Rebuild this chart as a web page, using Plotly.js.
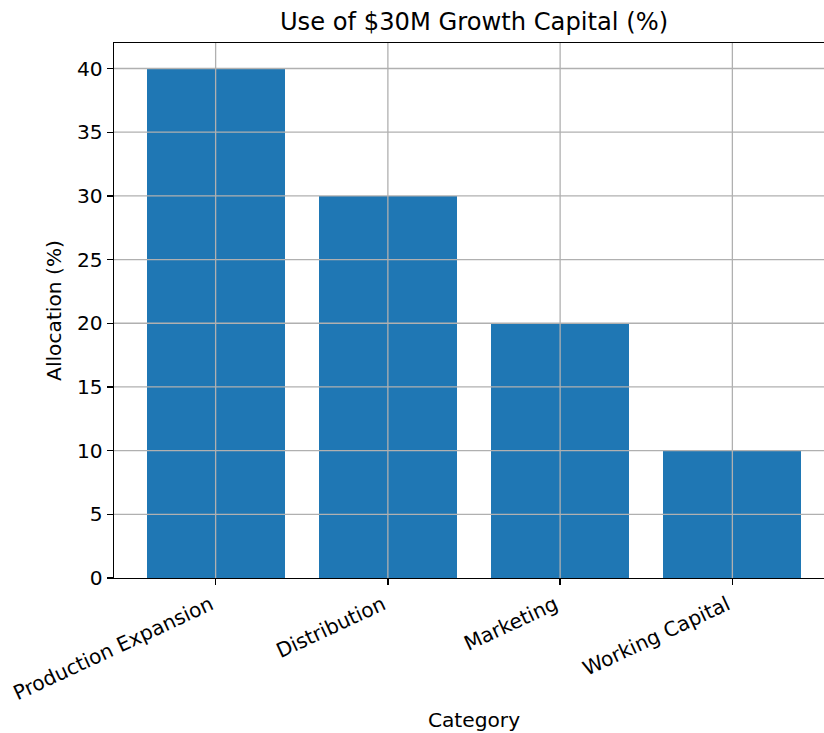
<!DOCTYPE html>
<html>
<head>
<meta charset="utf-8">
<script src="https://cdn.plot.ly/plotly-3.0.1.min.js"></script>
<style>
  html, body { margin: 0; padding: 0; overflow: hidden; background: #fff; }
  #chart { width: 850px; height: 733px; }
</style>
</head>
<body>
<div id="chart"></div>
<script>
// ---- data ----
const categories = ["Production Expansion", "Distribution", "Marketing", "Working Capital"];
const allocation = [40, 30, 20, 10];
const yTicks = [0, 5, 10, 15, 20, 25, 30, 35, 40];
const chartTitle = "Use of $30M Growth Capital (%)";
const xLabel = "Category";
const yLabel = "Allocation (%)";

// ---- styling ----
const FONT = "DejaVu Sans, Liberation Sans, sans-serif";
const GRID = "#b0b0b0";
const LBL = 20.2;

// gridlines drawn above bars (matplotlib style)
const shapes = [];
yTicks.forEach(v => {
  if (v === 0) return;
  shapes.push({type: "line", xref: "paper", yref: "y", x0: 0, x1: 1, y0: v, y1: v,
               line: {color: GRID, width: 1.3}, layer: "above"});
});
categories.forEach((c, i) => {
  shapes.push({type: "line", xref: "x", yref: "paper", x0: i, x1: i, y0: 0, y1: 1,
               line: {color: GRID, width: 1.3}, layer: "above"});
});

const trace = {
  type: "bar",
  x: categories,
  y: allocation,
  width: 0.8,
  marker: {color: "#1f77b4", line: {width: 0}},
  hoverinfo: "x+y"
};

const layout = {
  width: 850,
  height: 733,
  margin: {l: 114, r: 16.4, t: 43, b: 155, pad: 0},
  paper_bgcolor: "#ffffff",
  plot_bgcolor: "#ffffff",
  font: {family: FONT, size: LBL, color: "#000"},
  showlegend: false,
  bargap: 0,
  title: {
    text: chartTitle,
    font: {family: FONT, size: 24.2, color: "#000"},
    x: 0.5, xref: "paper", xanchor: "center",
    y: 1 - 22 / 733, yref: "container", yanchor: "middle"
  },
  xaxis: {
    type: "category",
    range: [-0.59, 3.59],
    showgrid: false,
    zeroline: false,
    showline: true, mirror: true, linecolor: "#000", linewidth: 1.3,
    ticks: "outside", ticklen: 6, tickwidth: 1.3, tickcolor: "#000",
    tickangle: -25,
    ticklabelshift: -5,
    tickfont: {family: FONT, size: LBL, color: "#000"},
    automargin: false,
    title: {text: xLabel, font: {family: FONT, size: LBL, color: "#000"}, standoff: 8}
  },
  yaxis: {
    range: [0, 42],
    tickvals: yTicks,
    ticktext: yTicks.map(String),
    showgrid: false,
    zeroline: false,
    showline: true, mirror: true, linecolor: "#000", linewidth: 1.3,
    ticks: "outside", ticklen: 6, tickwidth: 1.3, tickcolor: "#000",
    tickfont: {family: FONT, size: LBL, color: "#000"},
    automargin: false,
    title: {text: yLabel, font: {family: FONT, size: LBL, color: "#000"}, standoff: 10}
  },
  shapes: shapes
};

Plotly.newPlot("chart", [trace], layout, {displayModeBar: false, staticPlot: true});
</script>
</body>
</html>
